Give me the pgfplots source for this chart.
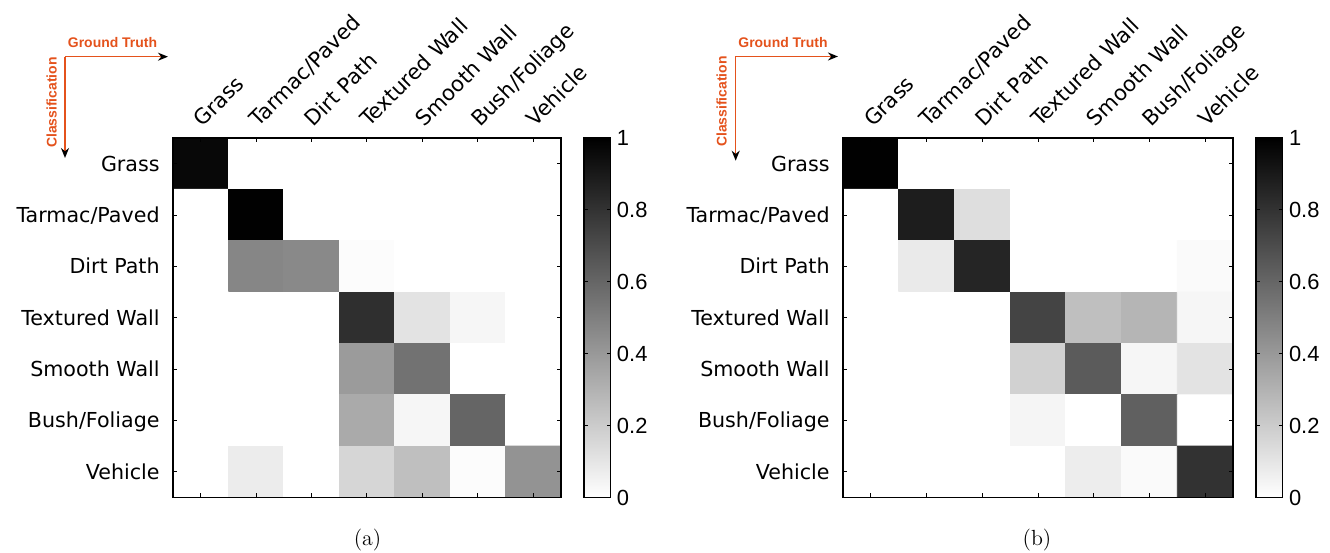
\documentclass[border=0pt]{standalone}
\usepackage{pgfplots}
\pgfplotsset{compat=1.18}
\usetikzlibrary{arrows.meta}
\usepackage{fontspec}
\newfontfamily\dv{DejaVu Sans}
\newfontfamily\lib{Liberation Sans}
\definecolor{anno}{RGB}{228,82,28}
\pgfplotsset{
 cm/.style={
  scale only axis, height=179.75bp, axis on top,
  xmin=-0.5,xmax=6.5,ymin=-0.5,ymax=6.5, y dir=reverse,
  xtick={0,...,6}, ytick={0,...,6},
  xticklabels={Grass,Tarmac/Paved,Dirt Path,Textured Wall,Smooth Wall,Bush/Foliage,Vehicle},
  yticklabels={Grass,Tarmac/Paved,Dirt Path,Textured Wall,Smooth Wall,Bush/Foliage,Vehicle},
  tick align=inside, xtick pos=both, ytick pos=both, xticklabel pos=upper, yticklabel pos=lower,
  major tick length=2bp,
  axis line style={line width=0.6bp},
  tick style={line width=0.5bp,black},
  xticklabel style={font=\dv\fontsize{10.6}{12}\selectfont, inner sep=0pt, anchor=base west, xshift=1bp, yshift=5bp, rotate=45},
  yticklabel style={font=\dv\fontsize{10.35}{12}\selectfont, inner sep=0pt, anchor=base east, xshift=-6.5bp, yshift=-3.7bp},
  colormap={wb}{gray(0cm)=(1); gray(1cm)=(0)},
  point meta min=0, point meta max=1,
  colorbar,
  colorbar style={
    scale only axis,
    at={(parent axis.north east)}, anchor=north west, xshift=3bp,
    width=13.3bp, height=179.75bp,
    ytick={0,0.2,0.4,0.6,0.8,1}, yticklabels={0,0.2,0.4,0.6,0.8,1},
    tick align=inside, ytick pos=both, yticklabel pos=right,
    major tick length=2bp,
    axis line style={line width=0.6bp},
    tick style={line width=0.5bp,black},
    yticklabel style={font=\lib\fontsize{11}{13}\selectfont, inner sep=0pt, anchor=west, xshift=3bp},
  },
 }
}
\begin{document}
\begin{tikzpicture}
\useasboundingbox (0,0) rectangle (665bp,-276.5bp);
\begin{axis}[cm, width=194bp, at={(86.5bp,-69bp)}, anchor=north west]
\addplot[matrix plot*, mesh/cols=7, mesh/rows=7, point meta=explicit] table[meta=C]{
x y C
0 0 0.96
1 0 0
2 0 0
3 0 0
4 0 0
5 0 0
6 0 0
0 1 0
1 1 0.99
2 1 0
3 1 0
4 1 0
5 1 0
6 1 0
0 2 0
1 2 0.47
2 2 0.46
3 2 0.01
4 2 0
5 2 0
6 2 0
0 3 0
1 3 0
2 3 0
3 3 0.81
4 3 0.11
5 3 0.035
6 3 0
0 4 0
1 4 0
2 4 0
3 4 0.39
4 4 0.55
5 4 0
6 4 0
0 5 0
1 5 0
2 5 0
3 5 0.33
4 5 0.035
5 5 0.6
6 5 0
0 6 0
1 6 0.075
2 6 0
3 6 0.16
4 6 0.25
5 6 0.01
6 6 0.42
};
\end{axis}
\begin{axis}[cm, width=195bp, at={(421.5bp,-69bp)}, anchor=north west]
\addplot[matrix plot*, mesh/cols=7, mesh/rows=7, point meta=explicit] table[meta=C]{
x y C
0 0 0.99
1 0 0
2 0 0
3 0 0
4 0 0
5 0 0
6 0 0
0 1 0
1 1 0.88
2 1 0.13
3 1 0
4 1 0
5 1 0
6 1 0
0 2 0
1 2 0.08
2 2 0.85
3 2 0
4 2 0
5 2 0
6 2 0.02
0 3 0
1 3 0
2 3 0
3 3 0.73
4 3 0.25
5 3 0.29
6 3 0.035
0 4 0
1 4 0
2 4 0
3 4 0.18
4 4 0.64
5 4 0.035
6 4 0.11
0 5 0
1 5 0
2 5 0
3 5 0.04
4 5 0
5 5 0.62
6 5 0
0 6 0
1 6 0
2 6 0
3 6 0
4 6 0.07
5 6 0.02
6 6 0.8
};
\end{axis}
\begin{scope}[x=0.5bp,y=-0.5bp]
\draw[anno, line width=0.8bp, -{Stealth[black,length=5bp,width=4bp]}] (65,56.7) -- (168,56.7);
\draw[anno, line width=0.8bp, -{Stealth[black,length=5bp,width=4bp]}] (65,56.7) -- (65,158);
\node[anno, font=\lib\bfseries\fontsize{7}{8}\selectfont, inner sep=0pt] at (112.5,43) {Ground Truth};
\node[anno, font=\lib\bfseries\fontsize{7}{8}\selectfont, inner sep=0pt, rotate=90] at (51.7,102.5) {Classification};
\draw[anno, line width=0.8bp, -{Stealth[black,length=5bp,width=4bp]}] (735.7,56.5) -- (838,56.5);
\draw[anno, line width=0.8bp, -{Stealth[black,length=5bp,width=4bp]}] (735.7,56.5) -- (735.7,160.7);
\node[anno, font=\lib\bfseries\fontsize{7}{8}\selectfont, inner sep=0pt] at (783,43) {Ground Truth};
\node[anno, font=\lib\bfseries\fontsize{7}{8}\selectfont, inner sep=0pt, rotate=90] at (721.7,101.5) {Classification};
\node[font=\fontsize{11}{13}\selectfont] at (367.5,540) {(a)};
\node[font=\fontsize{11}{13}\selectfont] at (1037,540) {(b)};
\end{scope}
\end{tikzpicture}
\end{document}
